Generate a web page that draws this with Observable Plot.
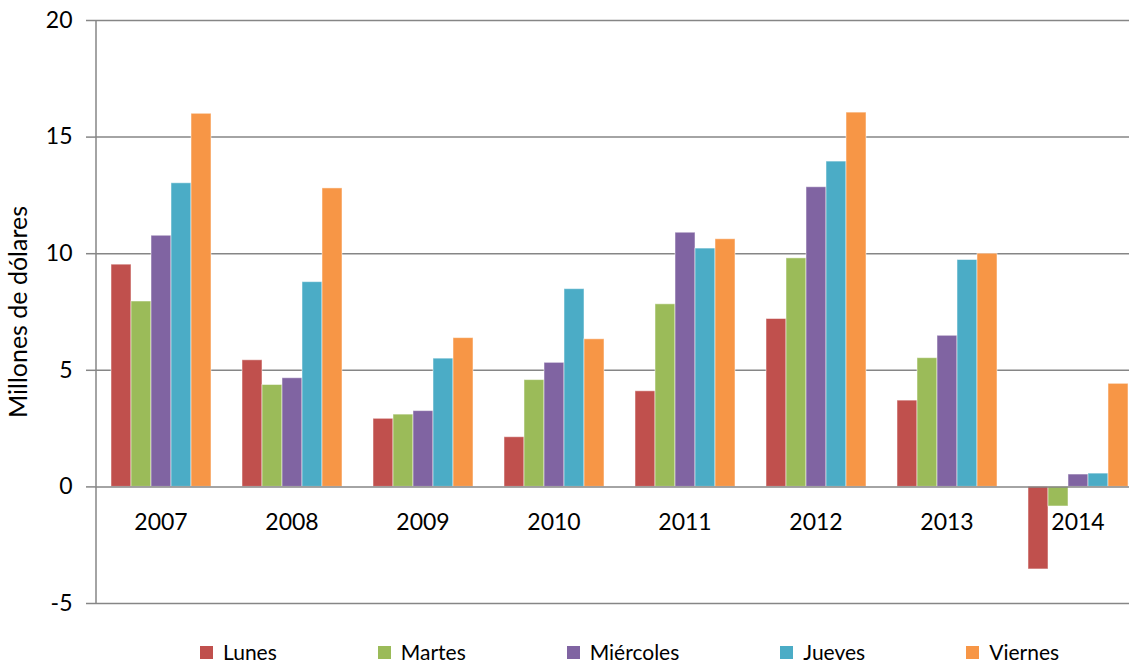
<!DOCTYPE html>
<html>
<head>
<meta charset="utf-8">
<script src="https://cdn.jsdelivr.net/npm/d3@7"></script>
<script src="https://cdn.jsdelivr.net/npm/@observablehq/plot@0.6"></script>
<style>
html, body { margin: 0; padding: 0; background: #fff; overflow: hidden; width: 1129px; height: 663px; }
body { font-family: Lato, "Open Sans", sans-serif; }
#chart svg { display: block; max-width: none !important; }
#legend { display: flex; align-items: center; margin-left: 200px; margin-top: 14px; height: 24px; font-size: 21px; line-height: 24px; color: #000; }
.item { display: flex; align-items: center; margin-right: 101px; }
.sw { width: 13px; height: 13px; margin-right: 10px; }
</style>
</head>
<body>
<div id="chart"></div>
<div id="legend"></div>
<script>
const years = ["2007", "2008", "2009", "2010", "2011", "2012", "2013", "2014"];
const days = ["Lunes", "Martes", "Miércoles", "Jueves", "Viernes"];
const lunes     = [9.53, 5.43, 2.92, 2.13, 4.10, 7.20, 3.70, -3.54];
const martes    = [7.95, 4.37, 3.10, 4.58, 7.83, 9.80, 5.52, -0.84];
const miercoles = [10.77, 4.66, 3.25, 5.32, 10.90, 12.85, 6.48, 0.53];
const jueves    = [13.02, 8.78, 5.50, 8.48, 10.22, 13.95, 9.73, 0.57];
const viernes   = [16.00, 12.80, 6.38, 6.33, 10.62, 16.05, 10.00, 4.42];
const colors = ["#C0504D", "#9BBB59", "#8064A2", "#4BACC6", "#F79646"];
const yTicks = [-5, 0, 5, 10, 15, 20];
const yLabel = "Millones de dólares";

const series = [lunes, martes, miercoles, jueves, viernes];
const table = [];
years.forEach((yr, i) => days.forEach((d, j) => table.push({year: yr, day: d, value: series[j][i]})));

const gridColor = "#868686";

const chart = Plot.plot({
  width: 1144,
  height: 626,
  marginLeft: 95,
  marginRight: 1,
  marginTop: 20,
  marginBottom: 23,
  style: {fontFamily: "Lato, 'Open Sans', sans-serif", fontSize: "23px", color: "#000", background: "#fff", maxWidth: "none"},
  fx: {domain: years, axis: null, padding: 0},
  x: {domain: days, axis: null, paddingInner: 0, paddingOuter: 0.775},
  y: {domain: [-5, 20]},
  color: {domain: days, range: colors},
  marks: [
    Plot.ruleY(yTicks.filter(t => t !== 0), {stroke: gridColor, strokeWidth: 1.5}),
    Plot.barY(table, {fx: "year", x: "day", y: "value", fill: "day", stroke: "#fff", strokeOpacity: 0.5, strokeWidth: 1}),
    Plot.ruleY([0], {stroke: gridColor, strokeWidth: 1.5}),
    Plot.ruleX([days[0]], {fx: () => years[0], y1: -5, y2: 20, dx: -25.5, stroke: gridColor, strokeWidth: 1.5}),
    Plot.axisY(yTicks, {anchor: "left", tickSize: 9, tickPadding: 14, stroke: gridColor, strokeWidth: 1.5, fill: "#000", fontSize: 23, label: null, tickFormat: d => String(d)}),
    Plot.text(years, {fx: d => d, y: () => 0, text: d => d, dy: 36, fontSize: 23, fill: "#000"}),
    Plot.text([yLabel], {fx: () => years[0], frameAnchor: "left", textAnchor: "middle", rotate: -90, dx: -77, fontSize: 25, fill: "#000", text: d => d})
  ]
});
document.getElementById("chart").appendChild(chart);

const legend = document.getElementById("legend");
days.forEach((d, i) => {
  const it = document.createElement("div");
  it.className = "item";
  const sw = document.createElement("span");
  sw.className = "sw";
  sw.style.background = colors[i];
  const tx = document.createElement("span");
  tx.textContent = d;
  it.appendChild(sw);
  it.appendChild(tx);
  legend.appendChild(it);
});
</script>
</body>
</html>
